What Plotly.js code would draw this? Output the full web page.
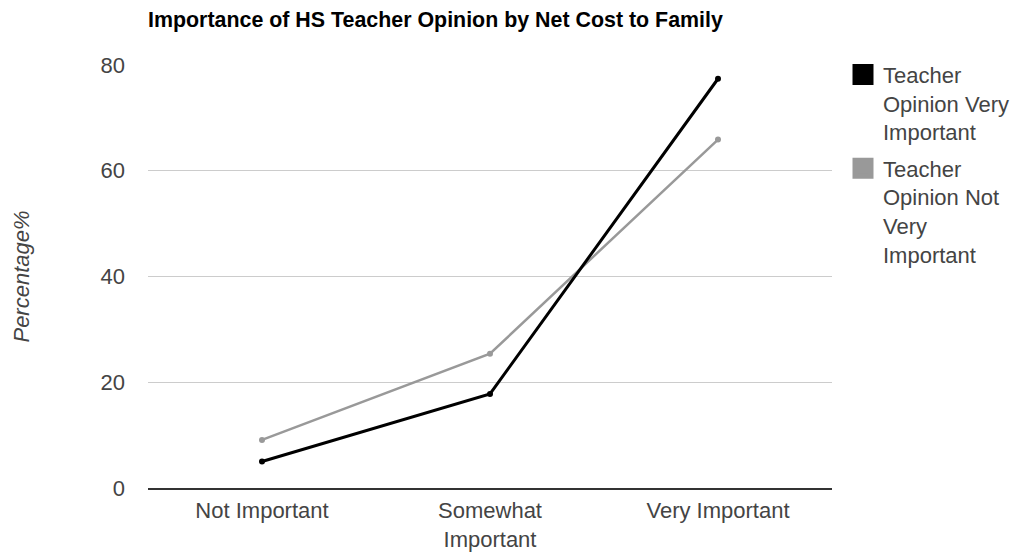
<!DOCTYPE html>
<html>
<head>
<meta charset="utf-8">
<script src="https://cdn.plot.ly/plotly-3.0.1.min.js"></script>
<style>
  html, body { margin: 0; padding: 0; background: #fff; }
  #chart { width: 1017px; height: 553px; }
</style>
</head>
<body>
<div id="chart"></div>
<script>
// Importance level of net cost to family (x categories)
const categories = ["Not Important", "Somewhat<br>Important", "Very Important"];

// Percentage of students, split by how important they rated HS teacher opinion
const veryImportantName = "Teacher<br>Opinion Very<br>Important";
const veryImportantValues = [5.0, 17.8, 77.4];

const notVeryImportantName = "Teacher<br>Opinion Not<br>Very<br>Important";
const notVeryImportantValues = [9.1, 25.4, 65.9];

const yTicks = [0, 20, 40, 60, 80];

const BLACK = "#000000";
const GRAY = "#999999";
const TEXT = "#444444";
const FONT = "Liberation Sans, Arial, sans-serif";

function lineTrace(values, color, width) {
  return {
    x: categories,
    y: values,
    type: "scatter",
    mode: "lines+markers",
    line: { color: color, width: width },
    marker: { color: color, size: 6 },
    showlegend: false,
    hoverinfo: "x+y"
  };
}

// Legend-only entries with square swatches
function legendEntry(name, color, group) {
  return {
    x: [null],
    y: [null],
    type: "scatter",
    mode: "markers",
    name: name,
    legendgroup: group,
    marker: { symbol: "square", color: color, size: 16, line: { color: color, width: 5 } },
    showlegend: true
  };
}

const data = [
  lineTrace(notVeryImportantValues, GRAY, 2.5),
  lineTrace(veryImportantValues, BLACK, 3),
  legendEntry(veryImportantName, BLACK, "very"),
  legendEntry(notVeryImportantName, GRAY, "notVery")
];

const layout = {
  width: 1017,
  height: 553,
  paper_bgcolor: "#ffffff",
  plot_bgcolor: "#ffffff",
  margin: { l: 148, r: 185, t: 65, b: 65, autoexpand: false },
  font: { family: FONT, color: TEXT, size: 22 },
  title: {
    text: "<b>Importance of HS Teacher Opinion by Net Cost to Family</b>",
    font: { family: FONT, size: 21.4, color: "#000000" },
    xref: "paper",
    x: 0,
    xanchor: "left",
    yref: "container",
    y: 1 - 20 / 553,
    yanchor: "middle"
  },
  xaxis: {
    type: "category",
    range: [-0.5, 2.5],
    showgrid: false,
    zeroline: false,
    showline: true,
    linecolor: "#333333",
    linewidth: 2,
    ticks: "",
    ticklabelstandoff: 2,
    tickfont: { family: FONT, size: 22, color: TEXT },
    fixedrange: true
  },
  yaxis: {
    range: [0, 80],
    tickvals: yTicks,
    ticktext: yTicks.map(String),
    showgrid: true,
    gridcolor: "#cccccc",
    gridwidth: 1,
    zeroline: false,
    showline: false,
    ticks: "",
    ticklabelstandoff: 22,
    tickfont: { family: FONT, size: 22, color: TEXT },
    title: {
      text: "<i>Percentage%</i>",
      font: { family: FONT, size: 22, color: TEXT },
      standoff: 64
    },
    fixedrange: true
  },
  legend: {
    xref: "container",
    x: 843 / 1017,
    xanchor: "left",
    y: 1.027,
    yanchor: "top",
    valign: "top",
    bgcolor: "rgba(0,0,0,0)",
    font: { family: FONT, size: 22, color: TEXT },
    tracegroupgap: 5
  },
  showlegend: true
};

Plotly.newPlot("chart", data, layout, { displayModeBar: false, staticPlot: true });
</script>
</body>
</html>
